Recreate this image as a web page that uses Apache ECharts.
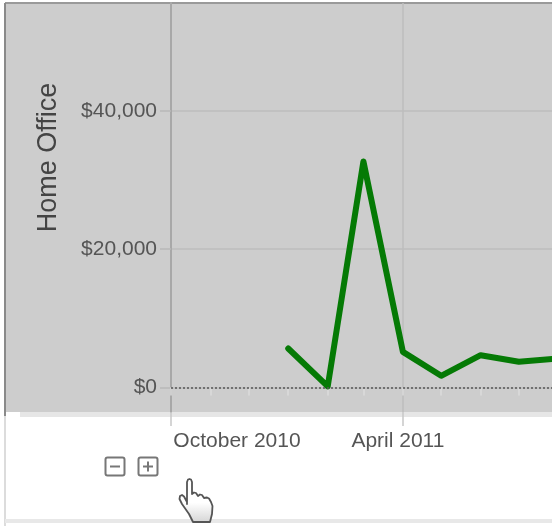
<!DOCTYPE html>
<html><head><meta charset="utf-8">
<style>html,body{margin:0;padding:0;background:#fff}#c{width:552px;height:526px}</style>
<script src="https://cdn.jsdelivr.net/npm/echarts@6/dist/echarts.min.js"></script>
</head><body><div id="c"></div>
<script>
const dates = ['2011-01-01','2011-02-01','2011-03-01','2011-04-01','2011-05-01','2011-06-01','2011-07-01','2011-08-01'];
const sales = [5650,170,32680,5160,1700,4680,3720,4200];
const yTicks = [0,20000,40000];
const monthTicks = ['2010-10-01','2010-11-01','2010-12-01','2011-01-01','2011-02-01','2011-03-01','2011-04-01','2011-05-01','2011-06-01','2011-07-01'];
const majorTicks = ['2010-10-01','2011-04-01'];
const majorLabels = {'2010-10-01':'October 2010','2011-04-01':'April 2011'};
const seriesName = 'Home Office';
const ts = s => new Date(s+'T00:00:00Z').getTime();
const xMin = ts('2010-10-01'), xMax = ts('2011-07-27');
const font = '"Liberation Sans", Arial, sans-serif';
const chart = echarts.init(document.getElementById('c'), null, {renderer:'canvas'});
chart.setOption({
  animation:false,
  backgroundColor:'#fff',
  grid:{left:171,right:0,top:3,bottom:114,containLabel:false},
  xAxis:[
    {type:'value',min:xMin,max:xMax,scale:true,
     axisLine:{show:false},
     axisTick:{show:true,length:8,customValues:monthTicks.map(ts),lineStyle:{color:'#dcdcdc',width:1.5}},
     axisLabel:{show:false},splitLine:{show:false}},
    {type:'value',min:xMin,max:xMax,scale:true,position:'bottom',
     axisLine:{show:false},
     axisTick:{show:true,length:14,customValues:majorTicks.map(ts),lineStyle:{color:'#c8c8c8',width:1.5}},
     axisLabel:{show:true,customValues:majorTicks.map(ts),margin:19,fontFamily:font,fontSize:21,color:'#555',hideOverlap:false,
       showMinLabel:true,showMaxLabel:true,
       formatter:v=>{
         const k=new Date(v).toISOString().slice(0,10);
         return k==='2010-10-01'?'{a|'+majorLabels[k]+'}':'{b|'+majorLabels[k]+'}';
       },
       rich:{a:{padding:[0,0,0,132],fontFamily:font,fontSize:21,color:'#555'},b:{padding:[0,10,0,0],fontFamily:font,fontSize:21,color:'#555'}}},
     splitLine:{show:true,lineStyle:{color:'#bdbdbd',width:1.5}}}
  ],
  yAxis:{type:'value',min:-3530,max:55570,
    name:seriesName,nameLocation:'middle',nameGap:109,nameRotate:90,
    nameTextStyle:{fontFamily:font,fontSize:27,color:'#444',padding:[0,0,0,100]},
    axisLine:{show:true,onZero:false,lineStyle:{color:'#a8a8a8',width:2}},
    axisTick:{show:true,length:11,customValues:yTicks,lineStyle:{color:'#b8b8b8',width:1.5}},
    axisLabel:{customValues:yTicks,margin:14,fontFamily:font,fontSize:21,color:'#555',
      showMinLabel:true,showMaxLabel:true,
      formatter:v=>'$'+v.toLocaleString('en-US')},
    splitLine:{show:true,lineStyle:{color:'#bdbdbd',width:1.5}}},
  graphic:[
    {type:'rect',z:-10,shape:{x:5,y:3,width:547,height:409},style:{fill:'#cdcdcd'}},
    {type:'rect',z:-9,shape:{x:20,y:412,width:532,height:5},style:{fill:'#e6e6e6'}},
    {type:'line',z:-8,shape:{x1:5,y1:3,x2:552,y2:3},style:{stroke:'#9a9a9a',lineWidth:2}},
    {type:'line',z:-8,shape:{x1:5,y1:3,x2:5,y2:416},style:{stroke:'#8a8a8a',lineWidth:2}},
    {type:'line',z:-8,shape:{x1:5,y1:416,x2:5,y2:526},style:{stroke:'#dcdcdc',lineWidth:2}},
    {type:'rect',z:-8,shape:{x:5,y:519,width:547,height:4},style:{fill:'#e8e8e8'}},
    {type:'rect',z:5,shape:{x:105.5,y:457.5,width:19,height:18,r:2},style:{fill:'#fff',stroke:'#777',lineWidth:2}},
    {type:'line',z:5,shape:{x1:110,y1:466.5,x2:120,y2:466.5},style:{stroke:'#777',lineWidth:2}},
    {type:'rect',z:5,shape:{x:138.5,y:457.5,width:19,height:18,r:2},style:{fill:'#fff',stroke:'#777',lineWidth:2}},
    {type:'line',z:5,shape:{x1:143,y1:466.5,x2:153,y2:466.5},style:{stroke:'#777',lineWidth:2}},
    {type:'line',z:5,shape:{x1:148,y1:461.5,x2:148,y2:471.5},style:{stroke:'#777',lineWidth:2}},
    {type:'polygon',z:6,x:179,y:478,
      shape:{points:[[8,26],[8,4],[9,1.5],[10.5,1],[12,1.5],[13,4],[13,16],[15,14.5],[17,15],[19,18],[21,16.5],[23,17],[25,20],[28,19.5],[30,20.5],[32,24],[33.5,28],[33,36],[31,44],[14,44],[10,36],[3,26],[0.5,21],[1,18],[3,17],[5,18.5],[8,24]]},
      style:{fill:{type:'linear',x:0,y:0,x2:0,y2:1,colorStops:[{offset:0,color:'#fff'},{offset:0.55,color:'#fff'},{offset:1,color:'#d4d4d4'}]},stroke:'#555',lineWidth:1.8,lineJoin:'round'}}
  ],
  series:[{type:'line',name:seriesName,xAxisIndex:0,
    data:dates.map((d,i)=>[ts(d),sales[i]]),
    symbol:'none',clip:true,
    lineStyle:{color:'#057a05',width:6,join:'round',cap:'round'},
    markLine:{silent:true,symbol:'none',animation:false,label:{show:false},
      data:[{yAxis:0}],lineStyle:{color:'#555',type:[2,2],width:1.5}}}]
});
</script></body></html>
